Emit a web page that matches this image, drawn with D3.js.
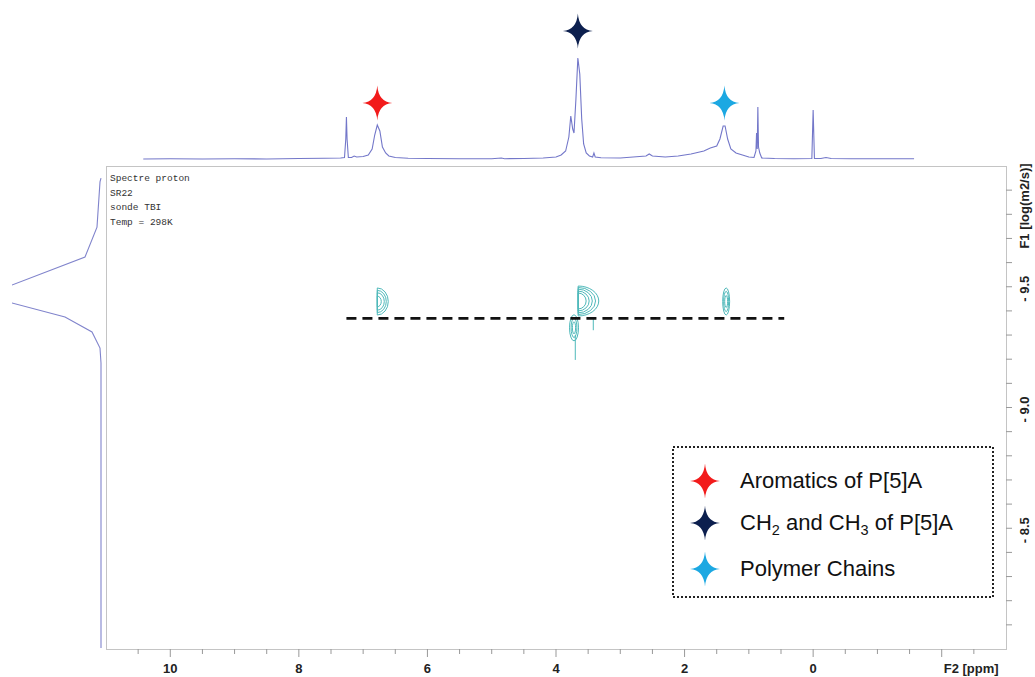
<!DOCTYPE html>
<html><head><meta charset="utf-8">
<script src="https://cdn.jsdelivr.net/npm/d3@7/dist/d3.min.js"></script>
<style>body{margin:0;background:#fff}svg{display:block}</style>
</head><body>
<svg id="c" width="1035" height="677"></svg>
<script>
// ---- 1D proton spectrum (top projection): ppm / intensity
const spectrumPpm = [10.42,10.0,9.5,9.0,8.5,8.0,7.6,7.35,7.29,7.27,7.26,7.25,7.23,7.18,7.14,7.10,7.0,6.92,6.86,6.82,6.78,6.74,6.70,6.65,6.60,6.50,6.3,6.0,5.5,5.0,4.85,4.8,4.5,4.2,4.0,3.92,3.85,3.80,3.77,3.74,3.72,3.69,3.66,3.63,3.60,3.57,3.53,3.48,3.43,3.41,3.39,3.3,3.0,2.8,2.6,2.55,2.5,2.3,2.1,1.9,1.7,1.6,1.5,1.45,1.40,1.37,1.33,1.28,1.2,1.1,1.0,0.92,0.89,0.88,0.87,0.86,0.85,0.83,0.80,0.6,0.3,0.02,0.0,-0.02,-0.12,-0.2,-0.28,-0.6,-1.0,-1.57];
const spectrumInt = [0,0.3,0,0.3,0,0.5,0.8,1,1.5,20,42,20,1.5,1.5,3,2,2.5,4,10,24,34,28,12,6,3,1.5,0.8,0.5,0.3,0.3,1,0.3,0.5,1,2,4,8,22,43,30,26,60,101,85,40,15,6,3,2,6,2,1.2,1,2,3,5,3,2,3,5,8,11,13,20,33,33,20,10,6,4,2,1.5,8,26,10,52,12,6,1,0.5,0.3,0.5,49,0.5,0.5,1.5,0.5,0.3,0.2,0.3];

// ---- F1 (diffusion) projection on the left
const projF1  = [-9.95,-9.934,-9.747,-9.623,-9.507,-9.47,-9.433,-9.375,-9.313,-9.246,-9.184,-8.004];
const projInt = [0,1,4,16,89,400,89,36,9,1,0,0];

// ---- markers / legend
const markerNames  = ["Aromatics of P[5]A", "CH2 and CH3 of P[5]A", "Polymer Chains"];
const markerPpm    = [6.78, 3.66, 1.38];
const markerLevel  = [56, 128, 56];
const markerColors = ["#f21b1b", "#0c1f4e", "#1ca8e2"];

// ---- axes
const f2MajorTicks = [10, 8, 6, 4, 2, 0, -2];
const f2Labels     = ["10", "8", "6", "4", "2", "0", "F2 [ppm]"];
const f1LabelTicks = [-10.0, -9.5, -9.0, -8.5];
const f1Labels     = ["F1 [log(m2/s)]", "- 9.5", "- 9.0", "- 8.5"];
const infoLines    = ["Spectre proton", "SR22", "sonde TBI", "Temp = 298K"];

// ---- 2D DOSY contours (centre ppm, centre F1, level half-widths / half-heights)
const contourPpm    = [6.78, 3.655, 1.353, 3.72];
const contourF1     = [-9.439, -9.441, -9.439, -9.33];
const contourShape  = ["D", "D", "ellipse", "ellipse"];
const contourWidths = [[0.171,0.14,0.109,0.062],[0.32,0.27,0.22,0.171,0.124],[0.054,0.039,0.023],[0.07,0.045,0.025]];
const contourHeights= [[0.056,0.046,0.036,0.022],[0.062,0.056,0.049,0.041,0.033],[0.056,0.042,0.025],[0.054,0.04,0.025]];
const tailPpm = [3.70, 3.70];
const tailF1  = [-9.30, -9.197];
const stemPpm = [3.42, 3.42];
const stemF1  = [-9.37, -9.32];

// ---- dashed diffusion line
const dashPpm = [7.26, 0.45];
const dashF1  = [-9.369, -9.369];

const svg = d3.select("#c");
const W = {l:106, r:1006, t:166, b:649};

const x  = d3.scaleLinear().domain([11, -3]).range([W.l, W.r]);
const y  = d3.scaleLinear().domain([-10, -8]).range([W.t, W.b]);
const ys = d3.scaleLinear().domain([0, 100]).range([159, 59]);
const xp = d3.scaleLinear().domain([0, 89]).range([101, 12]);

const defs = svg.append("defs");
defs.append("clipPath").attr("id","plotclip").append("rect")
  .attr("x",W.l).attr("y",W.t).attr("width",W.r-W.l).attr("height",W.b-W.t);
defs.append("clipPath").attr("id","projclip").append("rect")
  .attr("x",12).attr("y",W.t).attr("width",W.l-12).attr("height",W.b-W.t);

// frame
svg.append("rect").attr("x",W.l+0.5).attr("y",W.t+0.5).attr("width",W.r-W.l).attr("height",W.b-W.t)
  .attr("fill","none").attr("stroke","#c4c4c4").attr("stroke-width",1);

// top spectrum
const specData = spectrumPpm.map((p,i)=>[p, spectrumInt[i]]);
svg.append("path").datum(specData)
  .attr("d", d3.line().x(d=>x(d[0])).y(d=>ys(d[1])))
  .attr("fill","none").attr("stroke","#7377c9").attr("stroke-width",1.1);

// left projection
const projData = projF1.map((f,i)=>[f, projInt[i]]);
svg.append("g").attr("clip-path","url(#projclip)").append("path").datum(projData)
  .attr("d", d3.line().x(d=>xp(d[1])).y(d=>y(d[0])))
  .attr("fill","none").attr("stroke","#8084cc").attr("stroke-width",1.1);

// star shape
function star(cx, cy, w, h) {
  const p = d3.path(), c = 1.2;
  p.moveTo(cx, cy-h);
  p.quadraticCurveTo(cx+c, cy-c, cx+w, cy);
  p.quadraticCurveTo(cx+c, cy+c, cx, cy+h);
  p.quadraticCurveTo(cx-c, cy+c, cx-w, cy);
  p.quadraticCurveTo(cx-c, cy-c, cx, cy-h);
  p.closePath();
  return p.toString();
}
markerPpm.forEach((p,i)=>{
  svg.append("path").attr("d", star(x(p), ys(markerLevel[i]), 15, 17.5)).attr("fill", markerColors[i]);
});

// bottom axis ticks
const minorF2 = d3.range(10.5, -3, -0.5).filter(v=>Math.abs(v%2)>1e-6);
const gx = svg.append("g");
gx.selectAll(".mn").data(minorF2).join("line")
  .attr("x1",d=>x(d)).attr("x2",d=>x(d)).attr("y1",W.b).attr("y2",W.b+5)
  .attr("stroke","#999");
gx.selectAll(".mj").data(f2MajorTicks).join("line")
  .attr("x1",d=>x(d)).attr("x2",d=>x(d)).attr("y1",W.b).attr("y2",W.b+8)
  .attr("stroke","#999");
gx.selectAll("text").data(f2MajorTicks).join("text")
  .attr("x",(d,i)=> i===f2MajorTicks.length-1 ? x(d)+2 : x(d))
  .attr("y",673)
  .attr("text-anchor",(d,i)=> i===f2MajorTicks.length-1 ? "start" : "middle")
  .style("font-family","'Liberation Sans Narrow','Liberation Sans',Arial,sans-serif")
  .style("font-weight","bold").style("font-size","13px").attr("fill","#222")
  .text((d,i)=>f2Labels[i]);

// right axis
const minorF1 = d3.range(-9.9, -8.05, 0.1);
const gy = svg.append("g");
gy.selectAll("line").data(minorF1).join("line")
  .attr("x1",W.r).attr("x2",W.r+6).attr("y1",d=>y(d)).attr("y2",d=>y(d))
  .attr("stroke","#999");
gy.selectAll("text").data(f1LabelTicks).join("text")
  .attr("transform",(d,i)=>`translate(1029,${i===0 ? y(d)+40 : y(d)+2}) rotate(-90)`)
  .attr("text-anchor","middle")
  .style("font-family","'Liberation Sans Narrow','Liberation Sans',Arial,sans-serif")
  .style("font-weight","bold").style("font-size","13px").attr("fill","#222")
  .text((d,i)=>f1Labels[i]);

// info text
svg.append("g").selectAll("text").data(infoLines).join("text")
  .attr("x",110).attr("y",(d,i)=>181+i*14.5)
  .style("font-family","'Liberation Mono','DejaVu Sans Mono',monospace")
  .style("font-size","9.5px").attr("fill","#333").text(d=>d);

// contours
const plot = svg.append("g").attr("clip-path","url(#plotclip)");
contourPpm.forEach((p,k)=>{
  contourWidths[k].forEach((wv,j)=>{
    const hv = contourHeights[k][j];
    const x0 = x(p), cy = y(contourF1[k]);
    const rx = Math.abs(x(p - wv) - x0), ry = Math.abs(y(contourF1[k]+hv) - cy);
    if (contourShape[k] === "D") {
      const s = `M${x0},${cy-ry} L${x0},${cy+ry} A${rx},${ry} 0 0 0 ${x0},${cy-ry}`;
      plot.append("path").attr("d", s).attr("fill","none").attr("stroke","#4fb9ba").attr("stroke-width",1);
    } else {
      plot.append("ellipse").attr("cx",x0).attr("cy",cy).attr("rx",rx).attr("ry",ry)
        .attr("fill","none").attr("stroke","#4fb9ba").attr("stroke-width",1);
    }
  });
});
plot.append("path").datum(tailPpm.map((p,i)=>[p,tailF1[i]]))
  .attr("d", d3.line().x(d=>x(d[0])).y(d=>y(d[1])))
  .attr("stroke","#4fb9ba").attr("stroke-width",1).attr("fill","none");
plot.append("path").datum(stemPpm.map((p,i)=>[p,stemF1[i]]))
  .attr("d", d3.line().x(d=>x(d[0])).y(d=>y(d[1])))
  .attr("stroke","#4fb9ba").attr("stroke-width",1).attr("fill","none");

// dashed line
plot.append("path").datum(dashPpm.map((p,i)=>[p,dashF1[i]]))
  .attr("d", d3.line().x(d=>x(d[0])).y(d=>y(d[1])))
  .attr("stroke","#111").attr("stroke-width",2.6).attr("stroke-dasharray","10,6").attr("fill","none");

// legend
const lg = svg.append("g");
lg.append("rect").attr("x",673).attr("y",447).attr("width",320).attr("height",150)
  .attr("fill","#fff").attr("stroke","#222").attr("stroke-width",2).attr("stroke-dasharray","2,2");
const legY = [481, 523, 569];
markerNames.forEach((n,i)=>{
  lg.append("path").attr("d", star(705, legY[i], 15, 17.5)).attr("fill", markerColors[i]);
  const t = lg.append("text").attr("x",740).attr("y",legY[i]+7)
    .style("font-family","'Liberation Sans',Arial,sans-serif").style("font-size","22px").attr("fill","#111");
  if (i === 1) {
    t.append("tspan").text("CH");
    t.append("tspan").attr("dy",5).style("font-size","14.5px").text("2");
    t.append("tspan").attr("dy",-5).text(" and CH");
    t.append("tspan").attr("dy",5).style("font-size","14.5px").text("3");
    t.append("tspan").attr("dy",-5).text(" of P[5]A");
  } else t.text(n);
});
</script>
</body></html>
